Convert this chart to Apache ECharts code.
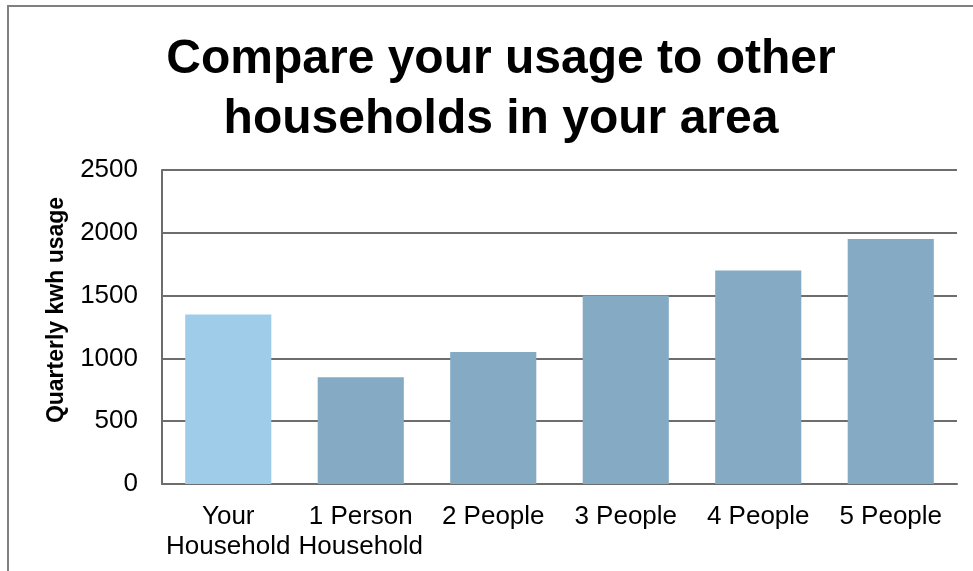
<!DOCTYPE html>
<html>
<head>
<meta charset="utf-8">
<script src="https://cdn.jsdelivr.net/npm/echarts@6/dist/echarts.min.js"></script>
<style>
  html, body { margin: 0; padding: 0; background: #fff; }
  #chart { width: 973px; height: 571px; }
</style>
</head>
<body>
<div id="chart"></div>
<script>
// data
const categories = ['Your\nHousehold', '1 Person\nHousehold', '2 People', '3 People', '4 People', '5 People'];
const usage = [1350, 850, 1050, 1500, 1700, 1950];
const barColors = ['#9fcde9', '#84abc3', '#84abc3', '#84abc3', '#84abc3', '#84abc3'];

const chart = echarts.init(document.getElementById('chart'));
const font = 'Liberation Sans, Arial, sans-serif';

chart.setOption({
    animation: false,
    title: {
        text: 'Compare your usage to other\nhouseholds in your area',
        left: 496,
        top: 25,
        textAlign: 'center',
        textStyle: {
            fontFamily: font,
            fontSize: 48,
            fontWeight: 'bold',
            color: '#000',
            lineHeight: 60
        }
    },
    graphic: [
        {
            type: 'rect',
            shape: { x: 8, y: 6, width: 1000, height: 600 },
            style: { fill: 'none', stroke: '#808080', lineWidth: 2 },
            silent: true
        },
        {
            type: 'text',
            x: 45,
            y: 310,
            rotation: Math.PI / 2,
            style: {
                text: 'Quarterly kwh usage',
                font: 'bold 23px ' + font,
                fill: '#000',
                align: 'center',
                verticalAlign: 'top'
            }
        }
    ],
    grid: { left: 162, right: 16, top: 170, bottom: 87 },
    xAxis: {
        type: 'category',
        data: categories,
        axisLine: { lineStyle: { color: '#6d6d6d', width: 2 } },
        axisTick: { show: false },
        axisLabel: {
            fontFamily: font,
            fontSize: 26,
            color: '#000',
            lineHeight: 30,
            margin: 18,
            interval: 0
        }
    },
    yAxis: {
        type: 'value',
        min: 0,
        max: 2500,
        interval: 500,
        axisLine: { show: true, lineStyle: { color: '#6d6d6d', width: 2 } },
        axisTick: { show: false },
        splitLine: { lineStyle: { color: '#6d6d6d', width: 2 } },
        axisLabel: {
            fontFamily: font,
            fontSize: 26,
            color: '#000',
            margin: 24,
            formatter: v => String(v)
        }
    },
    series: [
        {
            type: 'bar',
            barWidth: '65%',
            data: usage.map((v, i) => ({ value: v, itemStyle: { color: barColors[i] } }))
        }
    ]
});
window.addEventListener('resize', () => chart.resize());
</script>
</body>
</html>
